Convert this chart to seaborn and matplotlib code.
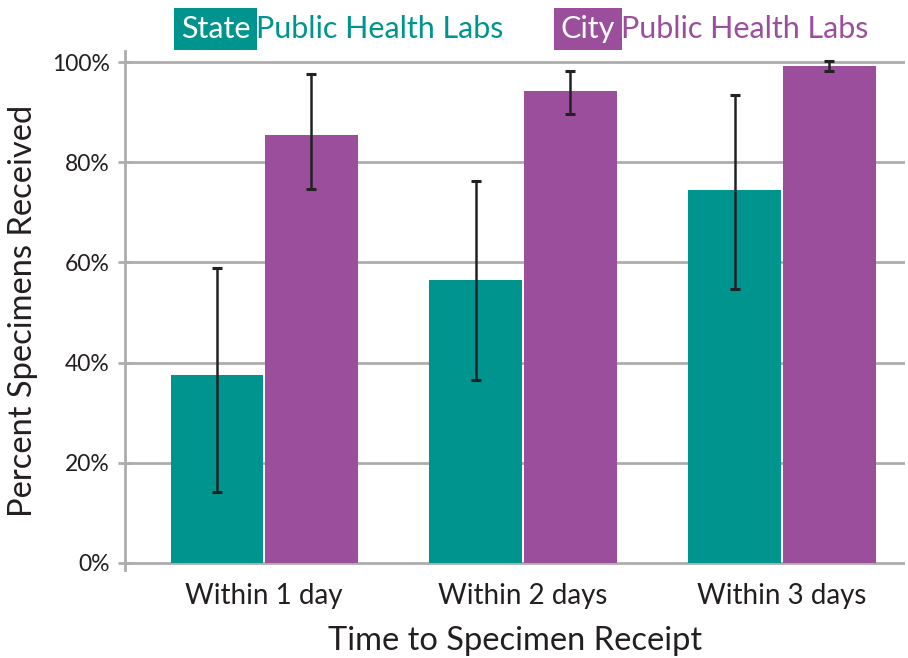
import matplotlib
matplotlib.use("Agg")
import matplotlib.pyplot as plt
import seaborn as sns
import pandas as pd
import numpy as np

categories = ["Within 1 day", "Within 2 days", "Within 3 days"]
groups = ["State", "City"]
state_vals = [37.5, 56.5, 74.5]
state_lo = [14.2, 36.5, 54.7]
state_hi = [58.9, 76.2, 93.5]
city_vals = [85.4, 94.2, 99.2]
city_lo = [74.7, 89.6, 98.2]
city_hi = [97.7, 98.2, 100.2]
yticks = [0, 20, 40, 60, 80, 100]

TEAL = "#00948f"
PURPLE = "#9b4e9c"

sns.set_theme(style="white")
plt.rcParams['font.family'] = ['Lato', 'DejaVu Sans']

df = pd.DataFrame({
    "cat": categories * 2,
    "grp": ["State"] * 3 + ["City"] * 3,
    "val": state_vals + city_vals,
})

fig = plt.figure(figsize=(9.08, 6.58), dpi=100)
ax = fig.add_axes([0.1377, 0.133, 0.859, 0.7895])

sns.barplot(data=df, x="cat", y="val", hue="grp", order=categories,
            hue_order=groups, palette=[TEAL, PURPLE], width=0.73, gap=0.02,
            errorbar=None, saturation=1, legend=False, ax=ax, zorder=3,
            linewidth=0)

# error bars from data, at the bar centres
lo_all = state_lo + city_lo
hi_all = state_hi + city_hi
vals_all = state_vals + city_vals
patches = [p for p in ax.patches if p.get_height() > 0]
patches = sorted(patches, key=lambda p: p.get_x())
order_idx = [0, 3, 1, 4, 2, 5]
for p, i in zip(patches, order_idx):
    cx = p.get_x() + p.get_width() / 2
    v = vals_all[i]
    ax.errorbar(cx, v, yerr=[[v - lo_all[i]], [hi_all[i] - v]], fmt="none",
                ecolor="#222222", elinewidth=1.8, capsize=3.5, capthick=2.2,
                zorder=5)

ax.set_ylim(-1.5, 102.2)
ax.set_xlim(-0.537, 2.475)
ax.set_yticks(yticks)
ax.set_yticklabels([f"{t}%" for t in yticks])
for t in yticks:
    ax.axhline(t, color="#adadad", lw=2, zorder=1)

for s in ["top", "right", "bottom"]:
    ax.spines[s].set_visible(False)
ax.spines["left"].set_color("#adadad")
ax.spines["left"].set_linewidth(2)

ax.tick_params(axis="y", direction="inout", length=10, width=2, color="#adadad",
               labelsize=16.5, labelcolor="#231f20", pad=6, left=True)
ax.tick_params(axis="x", length=0, labelsize=20, labelcolor="#231f20", pad=9)

ax.set_xlabel("Time to Specimen Receipt", fontsize=23.5, color="#231f20", labelpad=12)
ax.set_ylabel("Percent Specimens Received", fontsize=23.5, color="#231f20", labelpad=10)

# legend header
fs = 22
fig.canvas.draw()
r = fig.canvas.get_renderer()
ymid = 1 - 29 / 658
t1 = fig.text(181 / 908, ymid, "State", color="white", fontsize=fs,
              va="center", ha="left",
              bbox=dict(boxstyle="square,pad=0.22", fc=TEAL, ec="none"))
bb = t1.get_window_extent(r)
fig.text((bb.x1 + 6) / 908, ymid, "Public Health Labs", color=TEAL,
         fontsize=fs, va="center", ha="left")
t2 = fig.text(561 / 908, ymid, "City", color="white", fontsize=fs,
              va="center", ha="left",
              bbox=dict(boxstyle="square,pad=0.22", fc=PURPLE, ec="none"))
bb2 = t2.get_window_extent(r)
fig.text((bb2.x1 + 6) / 908, ymid, "Public Health Labs", color=PURPLE,
         fontsize=fs, va="center", ha="left")

fig.savefig("out.png", dpi=100)
